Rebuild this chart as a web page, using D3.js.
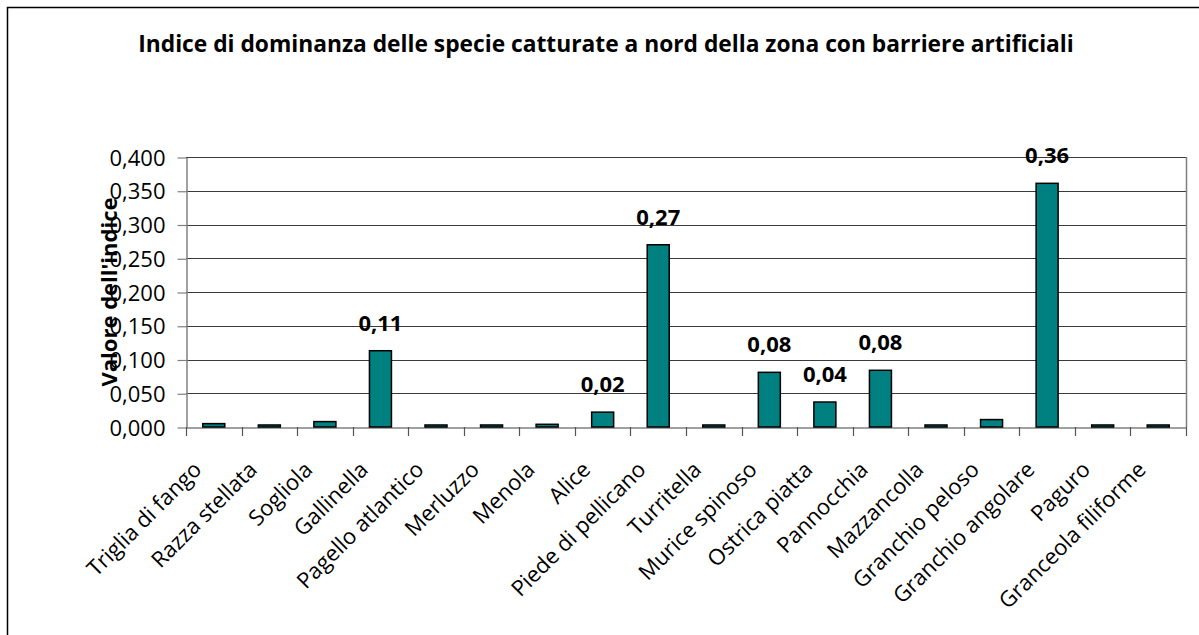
<!DOCTYPE html>
<html>
<head>
<meta charset="utf-8">
<script src="https://cdn.jsdelivr.net/npm/d3@7"></script>
<style>
  html, body { margin: 0; padding: 0; background: #fff; }
  svg { display: block; font-family: "Open Sans", sans-serif; }
</style>
</head>
<body>
<svg id="chart" width="1199" height="635"></svg>
<script>
const chartTitle = "Indice di dominanza delle specie catturate a nord della zona con barriere artificiali";
const yAxisTitle = "Valore dell'indice";
const categories = ["Triglia di fango", "Razza stellata", "Sogliola", "Gallinella", "Pagello atlantico",
  "Merluzzo", "Menola", "Alice", "Piede di pellicano", "Turritella", "Murice spinoso", "Ostrica piatta",
  "Pannocchia", "Mazzancolla", "Granchio peloso", "Granchio angolare", "Paguro", "Granceola filiforme"];
const values = [0.005, 0.003, 0.008, 0.113, 0.003, 0.003, 0.004, 0.022, 0.270, 0.003, 0.081, 0.037,
  0.084, 0.003, 0.011, 0.361, 0.003, 0.003];
const labeled = [false, false, false, true, false, false, false, true, true, false, true, true,
  true, false, false, true, false, false];
const yTicks = [0, 0.05, 0.1, 0.15, 0.2, 0.25, 0.3, 0.35, 0.4];

const svg = d3.select("#chart");
const plot = { left: 186, right: 1186, top: 157, bottom: 427 };

// outer border
svg.append("rect").attr("x", 7.5).attr("y", 7.5).attr("width", 1400).attr("height", 800)
  .attr("fill", "none").attr("stroke", "#000").attr("stroke-width", 1.5);

const x = d3.scaleBand().domain(categories).range([plot.left, plot.right]).paddingInner(0).paddingOuter(0);
const y = d3.scaleLinear().domain([0, 0.4]).range([plot.bottom, plot.top]);

// gridlines
svg.append("g").selectAll("line").data(yTicks.slice(1)).join("line")
  .attr("x1", plot.left).attr("x2", plot.right)
  .attr("y1", d => Math.round(y(d)) + 0.5).attr("y2", d => Math.round(y(d)) + 0.5)
  .attr("stroke", "#3a3a3a").attr("stroke-width", 1);

// right border of plot area
svg.append("line").attr("x1", plot.right + 0.5).attr("x2", plot.right + 0.5)
  .attr("y1", plot.top).attr("y2", plot.bottom).attr("stroke", "#808080").attr("stroke-width", 1.5);

// y axis
const fmt = d => d.toFixed(3).replace(".", ",");
const yAxis = d3.axisLeft(y).tickValues(yTicks).tickFormat(fmt).tickSizeInner(9).tickSizeOuter(0).tickPadding(12);
const gy = svg.append("g").attr("transform", `translate(${plot.left + 0.5},0.5)`).call(yAxis);
gy.select(".domain").attr("stroke", "#808080").attr("stroke-width", 1.5);
gy.selectAll(".tick line").attr("stroke", "#808080").attr("stroke-width", 1.2);
gy.selectAll(".tick text").attr("font-family", "Open Sans").attr("font-size", 22).attr("fill", "#000").attr("dy", "0.35em");

// x axis
const xAxis = d3.axisBottom(x).tickSizeInner(0).tickSizeOuter(0).tickFormat("");
const gx = svg.append("g").attr("transform", `translate(0,${plot.bottom + 0.5})`).call(xAxis);
gx.select(".domain").attr("stroke", "#808080").attr("stroke-width", 1.5);
gx.selectAll(".tick").remove();
// category boundary ticks
const bounds = categories.map(c => x(c)).concat([plot.right]);
svg.append("g").selectAll("line").data(bounds).join("line")
  .attr("x1", d => Math.round(d) + 0.5).attr("x2", d => Math.round(d) + 0.5)
  .attr("y1", plot.bottom).attr("y2", plot.bottom + 9)
  .attr("stroke", "#555").attr("stroke-width", 1.2);

// category labels
svg.append("g").selectAll("text").data(categories).join("text")
  .attr("transform", d => `translate(${x(d) + x.bandwidth() / 2 - 11},${plot.bottom + 44}) rotate(-45)`)
  .attr("text-anchor", "end")
  .attr("font-family", "Open Sans").attr("font-size", 22).attr("fill", "#000")
  .text(d => d);

// bars
const barW = 22;
svg.append("g").selectAll("rect").data(values).join("rect")
  .attr("x", (d, i) => x(categories[i]) + x.bandwidth() / 2 - barW / 2)
  .attr("y", d => y(d))
  .attr("width", barW)
  .attr("height", d => y(0) - y(d))
  .attr("fill", "#008080").attr("stroke", "#000").attr("stroke-width", 1.5);

// data labels
svg.append("g").selectAll("text").data(values.map((v, i) => ({ v, i })).filter(d => labeled[d.i])).join("text")
  .attr("x", d => x(categories[d.i]) + x.bandwidth() / 2)
  .attr("y", d => y(d.v) - 20)
  .attr("text-anchor", "middle")
  .attr("font-family", "Open Sans").attr("font-weight", "bold").attr("font-size", 22).attr("fill", "#000")
  .text(d => d.v.toFixed(2).replace(".", ","));

// y axis title
svg.append("text")
  .attr("transform", `translate(${117},${(plot.top + plot.bottom) / 2}) rotate(-90)`)
  .attr("text-anchor", "middle")
  .attr("font-family", "Open Sans").attr("font-weight", "bold").attr("font-size", 22).attr("fill", "#000")
  .text(yAxisTitle);

// chart title, sized to span the same width as the original
const t = svg.append("text")
  .attr("x", 606).attr("y", 52)
  .attr("text-anchor", "middle")
  .attr("font-family", "Open Sans").attr("font-weight", "bold").attr("font-size", 20).attr("fill", "#000")
  .text(chartTitle);
const w = t.node().getComputedTextLength();
t.attr("font-size", 20 * 936 / w);
</script>
</body>
</html>
